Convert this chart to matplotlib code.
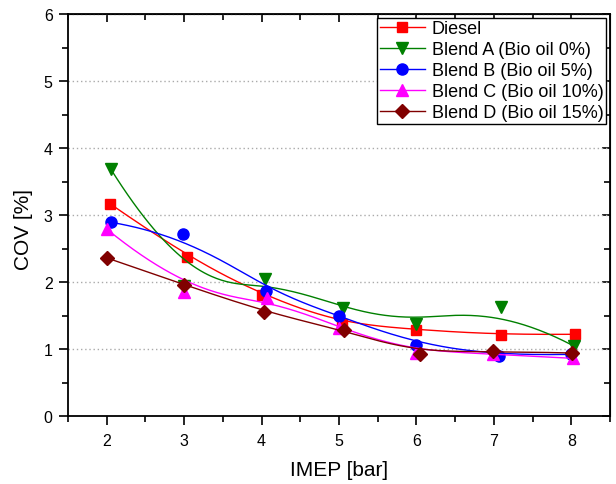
import numpy as np
import matplotlib
matplotlib.use("Agg")
import matplotlib.pyplot as plt
from matplotlib.ticker import MultipleLocator

plt.rcParams['font.family'] = ['Liberation Sans', 'DejaVu Sans']

labels = ["Diesel", "Blend A (Bio oil 0%)", "Blend B (Bio oil 5%)",
          "Blend C (Bio oil 10%)", "Blend D (Bio oil 15%)"]
colors = ["#FF0000", "#008000", "#0000FF", "#FF00FF", "#800000"]
markers = ["s", "v", "o", "^", "D"]
msizes = [7.5, 9, 8, 9, 7]

x_diesel = [2.04, 3.04, 4.00, 5.04, 6.00, 7.09, 8.05]
y_diesel = [3.17, 2.37, 1.80, 1.38, 1.29, 1.21, 1.22]
x_a = [2.05, 3.00, 4.05, 5.05, 6.00, 7.09, 8.04]
y_a = [3.69, 1.94, 2.04, 1.61, 1.38, 1.62, 1.04]
x_b = [2.06, 2.98, 4.06, 5.00, 6.00, 7.06, 8.00]
y_b = [2.89, 2.71, 1.87, 1.50, 1.06, 0.90, 0.92]
x_c = [2.00, 3.00, 4.07, 5.00, 6.00, 6.99, 8.02]
y_c = [2.79, 1.85, 1.76, 1.32, 0.94, 0.93, 0.86]
x_d = [2.00, 3.00, 4.03, 5.06, 6.05, 6.99, 8.01]
y_d = [2.36, 1.96, 1.55, 1.28, 0.92, 0.97, 0.94]

series = [(x_diesel, y_diesel), (x_a, y_a), (x_b, y_b), (x_c, y_c), (x_d, y_d)]


def bspline(px, py, n=300, k=3):
    P = np.column_stack([px, py]).astype(float)
    m = len(P)
    inner = np.arange(1, m - k)
    knots = np.concatenate([np.zeros(k + 1), inner, np.full(k + 1, m - k)]).astype(float)
    t = np.linspace(0, m - k, n)
    t[-1] -= 1e-9
    N = np.zeros((n, len(knots) - 1))
    for i in range(len(knots) - 1):
        N[:, i] = (t >= knots[i]) & (t < knots[i + 1])
    for d in range(1, k + 1):
        Nn = np.zeros((n, len(knots) - 1 - d))
        for i in range(len(knots) - 1 - d):
            a = knots[i + d] - knots[i]
            b = knots[i + d + 1] - knots[i + 1]
            term = np.zeros(n)
            if a > 0:
                term += (t - knots[i]) / a * N[:, i]
            if b > 0:
                term += (knots[i + d + 1] - t) / b * N[:, i + 1]
            Nn[:, i] = term
        N = Nn
    C = N @ P
    return C[:, 0], C[:, 1]


fig = plt.figure(figsize=(6.16, 4.85), dpi=100)
ax = fig.add_axes([68 / 616, 68 / 485, 542 / 616, 402 / 485])

for (xs, ys), lab, c, mk, ms in zip(series, labels, colors, markers, msizes):
    cx, cy = bspline(xs, ys)
    ax.plot(cx, cy, color=c, lw=1.0)
    ax.plot(xs, ys, linestyle='none', marker=mk, color=c, markersize=ms)
    ax.plot([], [], color=c, lw=1.0, marker=mk, markersize=ms, label=lab)

ax.set_xlim(1.5, 8.5)
ax.set_ylim(0, 6)
ax.xaxis.set_major_locator(MultipleLocator(1))
ax.xaxis.set_minor_locator(MultipleLocator(0.5))
ax.yaxis.set_major_locator(MultipleLocator(1))
ax.yaxis.set_minor_locator(MultipleLocator(0.5))
ax.grid(axis='y', which='major', color='#aaaaaa', linestyle=(0, (1, 2)), lw=1.0)
ax.tick_params(which='both', direction='out', width=1.2, labelsize=11.5, top=False, right=False)
ax.tick_params(which='major', length=6.5)
ax.tick_params(which='minor', length=4)
ax.tick_params(axis='x', which='major', pad=6)
ax.tick_params(axis='y', which='major', pad=4.5)
for s in ax.spines.values():
    s.set_linewidth(1.3)

ax2 = ax.secondary_xaxis('top')
ax2.xaxis.set_major_locator(MultipleLocator(1))
ax2.xaxis.set_minor_locator(MultipleLocator(0.5))
ax2.tick_params(which='both', direction='in', labeltop=False, width=1.2)
ax2.tick_params(which='major', length=6)
ax2.tick_params(which='minor', length=4)
ax3 = ax.secondary_yaxis('right')
ax3.yaxis.set_major_locator(MultipleLocator(1))
ax3.yaxis.set_minor_locator(MultipleLocator(0.5))
ax3.tick_params(which='both', direction='in', labelright=False, width=1.2)
ax3.tick_params(which='major', length=6)
ax3.tick_params(which='minor', length=4)

ax.set_xlabel("IMEP [bar]", fontsize=15)
ax.set_ylabel("COV [%]", fontsize=15)
ax.xaxis.set_label_coords((339 - 68) / 542, -(461 - 417) / 402)
ax.yaxis.set_label_coords(-(68 - 33) / 542, (417 - 230) / 402)

leg = ax.legend(loc='upper right', fontsize=13, frameon=True, fancybox=False,
                edgecolor='black', framealpha=1, borderaxespad=0.2,
                handlelength=2.5, handletextpad=0.4, labelspacing=0.22,
                borderpad=0.15)
leg.get_frame().set_linewidth(1.0)

fig.savefig("out.png", dpi=100)
